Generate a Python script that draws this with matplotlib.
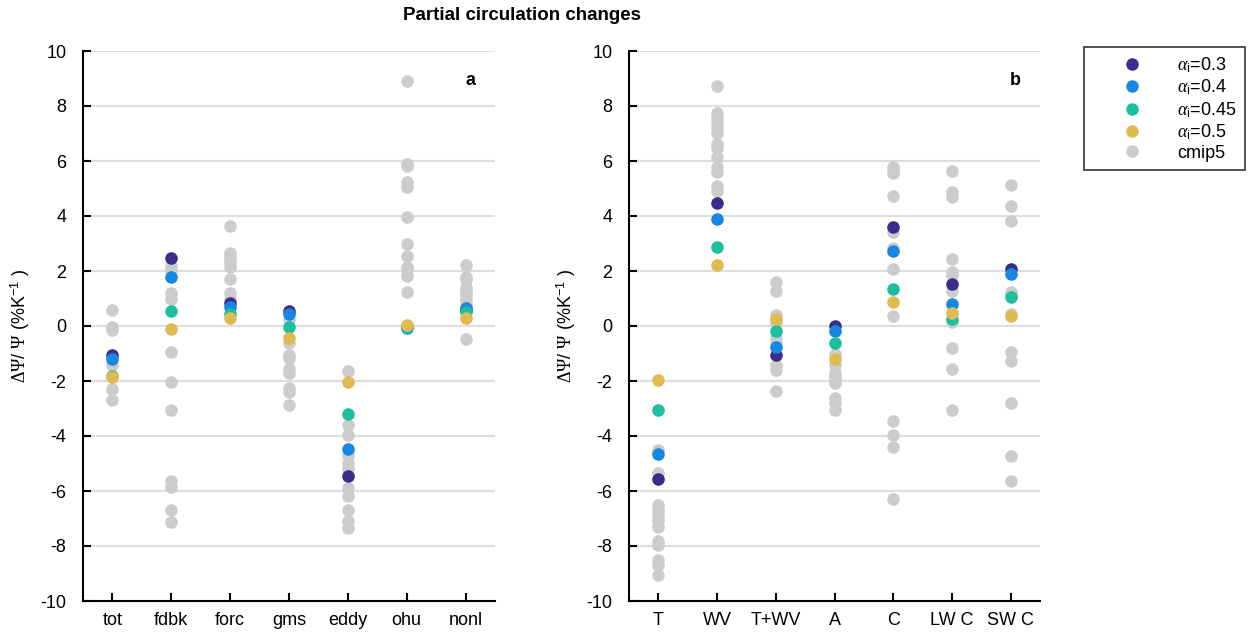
import numpy as np
import matplotlib.pyplot as plt
from matplotlib.lines import Line2D

plt.rcParams['font.family'] = ['Liberation Sans', 'DejaVu Sans']
plt.rcParams['axes.unicode_minus'] = False
plt.rcParams['mathtext.fontset'] = 'custom'
plt.rcParams['mathtext.rm'] = 'Liberation Serif'
plt.rcParams['mathtext.it'] = 'Liberation Serif:italic'
plt.rcParams['mathtext.sf'] = 'Liberation Sans'

# panel a: partial circulation change terms
cats_a = ["tot", "fdbk", "forc", "gms", "eddy", "ohu", "nonl"]
cmip_a = [
    [0.6, -0.05, -0.15, -1.4, -1.85, -2.3, -2.7],
    [2.2, 2.05, 1.2, 1.0, -0.93, -2.04, -3.07, -5.64, -5.84, -6.68, -7.13],
    [3.65, 2.64, 2.5, 2.4, 2.3, 2.16, 1.71, 1.19, 1.0],
    [0.25, -0.6, -1.05, -1.15, -1.55, -1.7, -2.25, -2.4, -2.87],
    [-1.64, -3.59, -3.98, -4.7, -4.99, -5.18, -5.9, -6.18, -6.68, -7.1, -7.33],
    [8.92, 5.89, 5.82, 5.25, 5.07, 3.98, 3.0, 2.55, 2.16, 2.04, 1.83, 1.25],
    [2.22, 1.77, 1.67, 1.4, 1.3, 1.15, 1.0, 0.85, 0.7, -0.48],
]
a03_a = [-1.05, 2.48, 0.82, 0.56, -5.44, 0.0, 0.6]
a04_a = [-1.2, 1.77, 0.7, 0.42, -4.49, -0.08, 0.64]
a045_a = [-1.82, 0.55, 0.44, -0.02, -3.2, -0.02, 0.52]
a05_a = [-1.85, -0.1, 0.3, -0.42, -2.04, 0.04, 0.29]

# panel b: feedback decomposition
cats_b = ["T", "WV", "T+WV", "A", "C", "LW C", "SW C"]
cmip_b = [
    [-4.5, -5.35, -6.5, -6.7, -6.85, -7.0, -7.1, -7.3, -7.8, -7.95, -8.5, -8.7, -9.05],
    [8.74, 7.73, 7.55, 7.37, 7.2, 7.03, 6.62, 6.46, 6.16, 5.79, 5.61, 5.1, 4.92],
    [1.59, 1.27, 0.4, 0.1, -0.45, -0.6, -1.42, -1.6, -2.35],
    [-1.0, -1.42, -1.72, -1.84, -1.96, -2.08, -2.63, -2.81, -3.05],
    [5.79, 5.67, 5.55, 4.74, 3.41, 2.83, 2.08, 0.36, -3.44, -3.96, -4.41, -6.29],
    [5.65, 4.88, 4.68, 2.42, 1.98, 1.85, 1.28, 0.16, -0.81, -1.58, -3.05],
    [5.13, 4.36, 3.83, 1.25, 1.15, 0.44, -0.93, -1.26, -2.81, -4.73, -5.64],
]
a03_b = [-5.58, 4.48, -1.05, 0.0, 3.59, 1.53, 2.06]
a04_b = [-4.67, 3.89, -0.75, -0.17, 2.74, 0.8, 1.89]
a045_b = [-3.05, 2.86, -0.17, -0.61, 1.33, 0.27, 1.07]
a05_b = [-1.96, 2.22, 0.24, -1.2, 0.86, 0.48, 0.38]

labels = [r"$\alpha_{\mathsf{i}}$=0.3", r"$\alpha_{\mathsf{i}}$=0.4",
          r"$\alpha_{\mathsf{i}}$=0.45", r"$\alpha_{\mathsf{i}}$=0.5", "cmip5"]
colors = ["#3a2d8c", "#1787df", "#1dbf9e", "#dfbb52", "#cccccc"]

MS = 82
FS = 13


def draw_panel(ax, cats, cmip, runs, tag):
    x = np.arange(1, len(cats) + 1)
    for xi, vals in zip(x, cmip):
        ax.scatter(np.full(len(vals), xi), vals, s=MS, color=colors[4],
                   linewidths=0, zorder=2)
    for vals, c in zip(runs, colors[:4]):
        ax.scatter(x, vals, s=MS, color=c, linewidths=0, zorder=3)

    ax.set_xlim(0.5, 7.5)
    ax.set_ylim(-10, 10)
    ax.set_xticks(x)
    ax.set_xticklabels(cats)
    ax.set_yticks(np.arange(-10, 11, 2))
    ax.yaxis.grid(True, color="#dedede", linewidth=1.5, zorder=0)
    ax.set_axisbelow(True)
    for s in ("top", "right"):
        ax.spines[s].set_visible(False)
    for s in ("left", "bottom"):
        ax.spines[s].set_linewidth(1.5)
    ax.tick_params(direction="in", length=6, width=1.5, labelsize=FS)
    ax.tick_params(axis="y", pad=12)
    ax.tick_params(axis="x", pad=8)
    ax.set_ylabel(r"$\Delta\Psi$/ $\Psi$ (%K$^{\mathsf{-1}}$ )", fontsize=FS,
                  labelpad=6)
    ax.text(0.94, 0.947, tag, transform=ax.transAxes, fontsize=FS,
            fontweight="bold", ha="center", va="center")


fig = plt.figure(figsize=(12.51, 6.35), dpi=100)
ax_a = fig.add_axes([83 / 1251, 34 / 635, 412 / 1251, 550 / 635])
ax_b = fig.add_axes([629 / 1251, 34 / 635, 411 / 1251, 550 / 635])

draw_panel(ax_a, cats_a, cmip_a, [a03_a, a04_a, a045_a, a05_a], "a")
draw_panel(ax_b, cats_b, cmip_b, [a03_b, a04_b, a045_b, a05_b], "b")

fig.text(522 / 1251, 1 - 16 / 635, "Partial circulation changes",
         fontsize=13.5, fontweight="bold", ha="center", va="center")

handles = [Line2D([], [], linestyle="none", marker="o", markersize=9,
                  markerfacecolor=c, markeredgewidth=0) for c in colors]
leg = fig.legend(handles, labels, loc="upper left",
                 bbox_to_anchor=(1084 / 1251, 1 - 47 / 635),
                 fontsize=FS, frameon=True, fancybox=False,
                 handlelength=4.4, handletextpad=0.3, borderaxespad=0,
                 borderpad=0.45, labelspacing=0.15)
leg.get_frame().set_edgecolor("black")
leg.get_frame().set_linewidth(1.2)

fig.savefig("out.png", dpi=100)
